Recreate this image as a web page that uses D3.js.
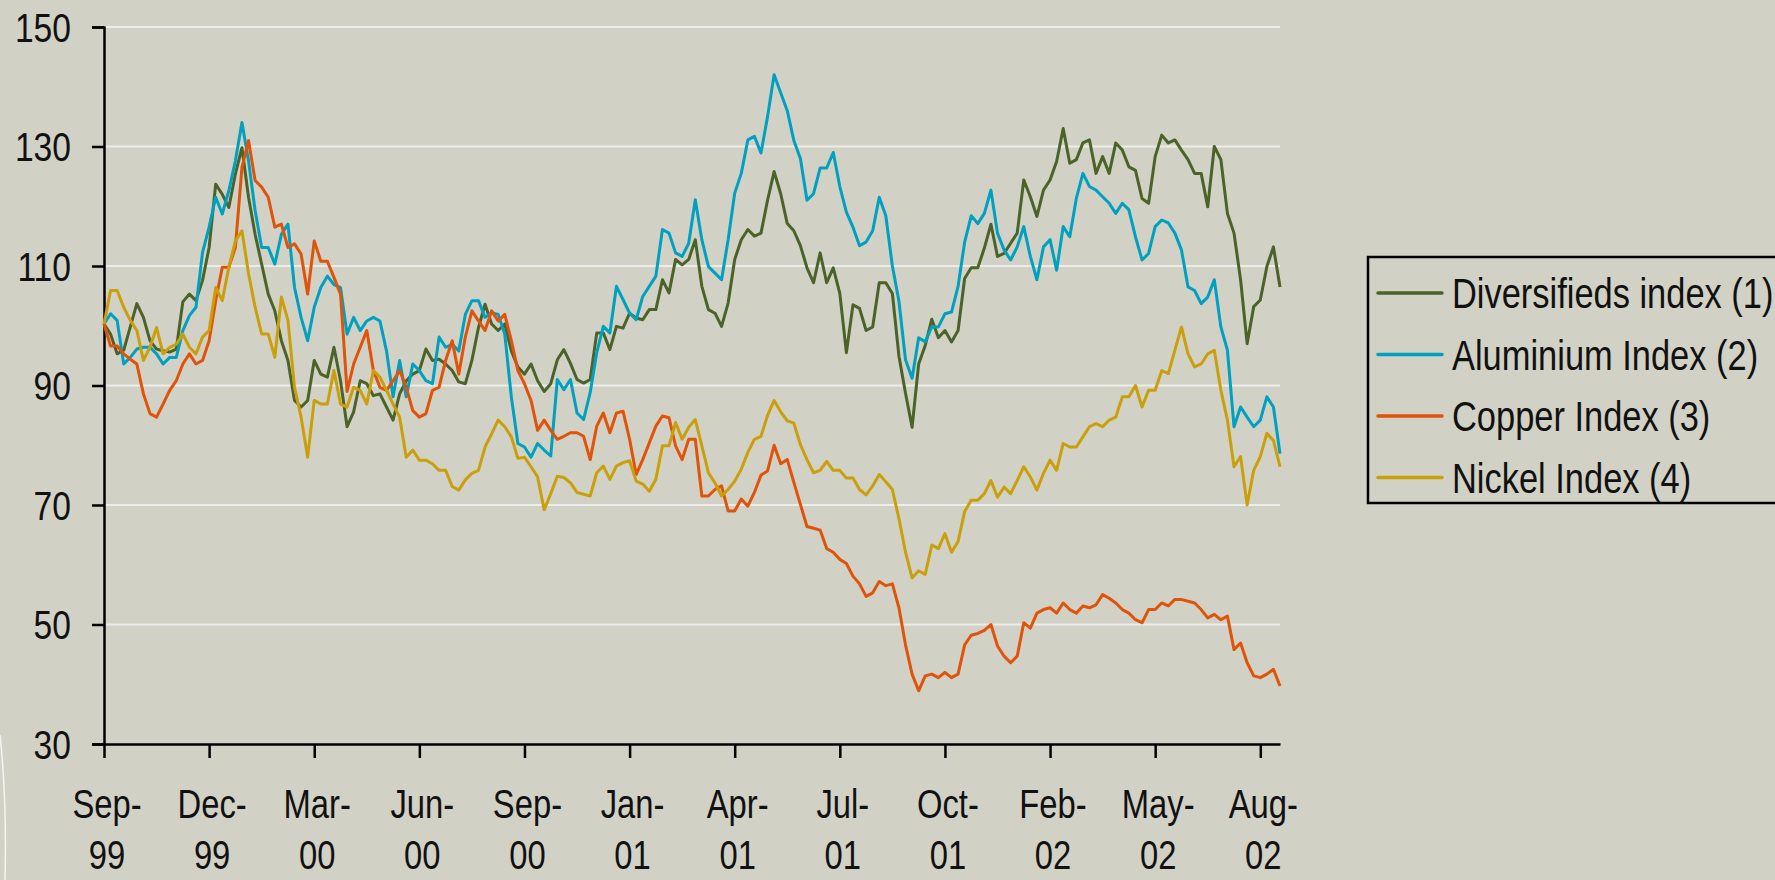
<!DOCTYPE html>
<html>
<head>
<meta charset="utf-8">
<script src="https://cdn.jsdelivr.net/npm/d3@7"></script>
<style>
  html, body { margin: 0; padding: 0; background: #d2d1c5; }
  svg { display: block; }
  text { font-family: "Liberation Sans", Arial, sans-serif; fill: #111; }
</style>
</head>
<body>
<svg></svg>
<script>
// Data =======================================================================

// tick labels, one every 16 points along the category axis
const tickLabels = [
  ["Sep-", "99"], ["Dec-", "99"], ["Mar-", "00"], ["Jun-", "00"],
  ["Sep-", "00"], ["Jan-", "01"], ["Apr-", "01"], ["Jul-", "01"],
  ["Oct-", "01"], ["Feb-", "02"], ["May-", "02"], ["Aug-", "02"]
];
const pointsPerTick = 16;

const yTicks = [30, 50, 70, 90, 110, 130, 150];

const seriesNames = [
  "Diversifieds index (1)",
  "Aluminium Index (2)",
  "Copper Index (3)",
  "Nickel Index (4)"
];

const diversified = [
  100.3, 98.6, 95.3, 95.9, 99.8, 103.7, 101.4, 97.5, 96.1, 95.8,
  95.6, 96.1, 104, 105.3, 104.2, 107.6, 113.1, 123.7, 122, 119.8,
  125.4, 129.8, 121.5, 115.3, 110.3, 105.3, 102.5, 97.5, 94.2, 87.5,
  86.4, 87.5, 94.2, 91.9, 91.4, 96.4, 90.8, 83.1, 85.6, 90.8,
  90.3, 88.3, 88.6, 86.4, 84.2, 88.6, 90.8, 91.9, 92.5, 96.1,
  94.2, 94.4, 93.6, 92.5, 90.6, 90.3, 94.2, 99.7, 103.6, 100.3,
  99.2, 100.3, 95.8, 93.1, 91.9, 93.6, 90.8, 89, 90.3, 94.3,
  96, 93.7, 91, 90.4, 91, 98.8, 98.8, 96, 99.9, 99.6,
  102.1, 101.3, 101, 102.7, 102.7, 107.7, 105.5, 111.1, 110.2, 111.1,
  114.4, 106.6, 102.7, 102.1, 99.9, 103.8, 111.1, 114.4, 116.1, 115,
  115.5, 121, 125.8, 122.1, 117.1, 115.9, 113.4, 109.7, 107.2, 112.2,
  107.2, 109.7, 105.4, 95.5, 103.5, 102.9, 99.2, 99.8, 107.2, 107.2,
  105.4, 94.9, 88.7, 83, 93.6, 96.7, 101.1, 98, 99.2, 97.3,
  99.2, 107.9, 109.7, 109.7, 113, 117, 111.6, 112.1, 113.8, 115.5,
  124.4, 121.6, 118.3, 122.7, 124.4, 127.5, 133, 127.2, 127.8, 130.6,
  131.1, 125.5, 128.3, 125.5, 130.6, 129.4, 126.6, 126, 121.3, 120.5,
  128.3, 131.9, 130.6, 131.1, 129.4, 127.8, 125.5, 125.5, 119.9, 130,
  127.8, 118.8, 115.5, 107.7, 97, 103.2, 104.3, 109.9, 113.2, 106.5
];

const aluminium = [
  100.3, 102, 100.9, 93.6, 94.7, 96.1, 96.4, 96.4, 95.3, 93.6,
  94.7, 94.7, 99.2, 101.7, 103.1, 112.3, 116.5, 121.5, 118.7, 122.6,
  127.6, 134, 127.6, 119.3, 113.1, 113.1, 110.3, 115.3, 117, 106.4,
  101.4, 97.5, 103.1, 106.4, 108.3, 106.9, 106.4, 98.6, 101.4, 99.2,
  100.8, 101.4, 100.8, 95.8, 88.1, 94.2, 88.1, 93.6, 92.5, 90.8,
  90.3, 98.1, 96.4, 96.9, 95.8, 101.9, 104.2, 104.2, 101.4, 102.2,
  101.9, 98.6, 88.1, 80.3, 79.7, 78, 80.3, 79.2, 78.2, 91,
  89.3, 91, 85.4, 84.3, 88.8, 95.5, 99.9, 98.8, 106.6, 104.4,
  102.1, 101, 104.9, 106.6, 108.3, 116.1, 115.5, 112.2, 111.6, 113.8,
  121.1, 114.4, 109.9, 108.8, 107.7, 114.4, 122.2, 125.5, 131.1, 131.7,
  128.9, 135, 142, 139, 136, 131, 128, 121, 122.1, 126.4,
  126.4, 129, 123.3, 119, 116.5, 113.4, 114, 115.9, 121.5, 118.4,
  110, 104.1, 94.3, 91.2, 98, 97.3, 99.8, 99.8, 102, 102.3,
  106.6, 114, 118.4, 117.1, 118.8, 122.7, 115.5, 112.7, 111, 113.2,
  116.6, 111.6, 107.7, 113.2, 114.4, 109.3, 116.6, 114.9, 121.3, 125.5,
  123.3, 122.7, 121.6, 120.5, 118.8, 120.5, 119.4, 114.9, 111, 112.1,
  116.6, 117.7, 117.2, 115.5, 112.7, 106.5, 105.9, 103.7, 104.8, 107.7,
  99.8, 95.9, 83.1, 86.4, 84.7, 83.1, 84.2, 88.1, 86.4, 78.6
];

const copper = [
  100.3, 96.6, 96.6, 95.3, 94.4, 93.6, 88.6, 85.3, 84.7, 86.9,
  89.2, 90.8, 93.6, 95.3, 93.6, 94.2, 97.5, 104.2, 109.8, 109.8,
  113.1, 126.5, 131, 124.3, 123.2, 121.5, 116.5, 117, 113.1, 113.7,
  112, 105.3, 114.2, 110.8, 110.8, 108.1, 105.3, 89, 93.6, 96.4,
  99.2, 92.5, 89.7, 89.2, 90.8, 92.5, 89.7, 85.8, 84.7, 85.3,
  89.2, 89.7, 94.2, 97.5, 91.9, 98.1, 102.5, 100.8, 99.2, 102.5,
  100.8, 101.9, 97.5, 92.5, 90.3, 87.5, 82.5, 84.2, 82.5, 81,
  81.5, 82.1, 82.1, 81.5, 77.6, 83.2, 85.4, 82.1, 85.4, 85.7,
  81, 75.1, 77.6, 80.4, 83.2, 84.9, 84.6, 79.9, 77.6, 81,
  81, 71.5, 71.5, 72.6, 73.2, 69, 69, 71, 69.8, 72.1,
  75, 75.7, 80, 76.9, 77.6, 73.8, 70.1, 66.4, 66.1, 65.8,
  62.7, 62.1, 60.9, 60.2, 58.1, 56.8, 54.7, 55.3, 57.2, 56.5,
  56.8, 52.8, 46.6, 41.7, 38.9, 41.4, 41.7, 41.1, 42, 41.1,
  41.7, 46.6, 48.2, 48.5, 49, 50, 46.4, 44.7, 43.6, 44.7,
  50.3, 49.4, 51.9, 52.5, 52.8, 51.9, 53.6, 52.5, 51.9, 53.1,
  52.8, 53.3, 55, 54.4, 53.6, 52.5, 51.9, 50.8, 50.3, 52.5,
  52.5, 53.6, 53.1, 54.2, 54.2, 53.9, 53.6, 52.5, 51.1, 51.7,
  50.8, 51.4, 45.8, 46.9, 43.6, 41.4, 41.1, 41.7, 42.5, 39.7
];

const nickel = [
  100.3, 105.9, 105.9, 103.1, 100.9, 99.2, 94.2, 96.4, 99.7, 95.3,
  96.4, 96.9, 98.6, 96.4, 95.3, 98.1, 99.2, 106.4, 104.2, 109.8,
  114.2, 115.9, 108.7, 103.1, 98.6, 98.6, 94.7, 104.8, 100.9, 89.7,
  84.7, 78, 87.5, 86.9, 86.9, 92.5, 86.9, 86.4, 89.7, 89.2,
  86.9, 92.5, 91.4, 89.2, 86.9, 84.7, 78, 79.2, 77.5, 77.5,
  76.9, 75.8, 75.8, 73.1, 72.5, 74.2, 75.3, 75.8, 79.7, 81.9,
  84.2, 83.1, 81.4, 77.8, 78, 76.4, 74.7, 69.2, 71.9, 74.8,
  74.6, 73.7, 72.1, 71.8, 71.5, 75.4, 76.5, 74.3, 76.5, 77.1,
  77.4, 74, 73.5, 72.3, 74.3, 79.9, 79.9, 83.8, 81, 83,
  84.3, 79.9, 75.4, 73.7, 71.5, 72.6, 74, 76, 78.8, 81,
  81.5, 85, 87.5, 85.6, 84.1, 83.7, 80.1, 77.6, 75.4, 75.8,
  77.3, 75.8, 75.8, 74.5, 74.5, 72.6, 71.7, 73.2, 75.1, 73.9,
  72.6, 67.7, 62.1, 57.8, 59, 58.4, 63.3, 62.7, 65.2, 62.1,
  63.9, 68.9, 70.8, 70.8, 71.9, 74.1, 71.3, 73, 71.9, 74.1,
  76.4, 74.7, 72.5, 75.3, 77.5, 75.8, 80.3, 79.7, 79.7, 81.4,
  83.1, 83.6, 83.1, 84.2, 84.7, 88.1, 88.1, 90, 86.4, 89.2,
  89.2, 92.5, 92, 95.9, 99.8, 95.3, 93.1, 93.6, 95.3, 95.9,
  89.2, 84.2, 76.4, 78.1, 70, 75.8, 78.1, 82, 80.8, 76.4
];

const allSeries = [diversified, aluminium, copper, nickel];
const colors = ["#4b6329", "#00a0c0", "#e0530a", "#c9a00c"];

// Canvas =====================================================================

const svgWidth = 1775,
  svgHeight = 880;

const plot = { left: 104, right: 1280, top: 27, bottom: 744 };

// the chart font is a condensed face, so squeeze a regular one
const squeeze = 0.82;

const svg = d3.select("svg")
  .attr("width", svgWidth)
  .attr("height", svgHeight);

svg.append("rect")
  .attr("width", svgWidth)
  .attr("height", svgHeight)
  .attr("fill", "#d2d1c5");

// page edge curl, bottom left
svg.append("path")
  .attr("d", "M0,735 Q7,800 5,880")
  .attr("fill", "none")
  .attr("stroke", "#f4f4f0")
  .attr("stroke-width", 1.5);

// Scales =====================================================================

const xScale = d3.scaleLinear()
  .domain([0, diversified.length - 1])
  .range([plot.left, plot.right]);

const yScale = d3.scaleLinear()
  .domain([30, 150])
  .range([plot.bottom, plot.top]);

const tickIndex = tickLabels.map((d, i) => i * pointsPerTick);

// Gridlines ==================================================================

svg.append("g")
  .selectAll("line")
  .data(yTicks.filter(d => d > 30))
  .enter()
  .append("line")
  .attr("x1", plot.left)
  .attr("x2", plot.right)
  .attr("y1", d => yScale(d))
  .attr("y2", d => yScale(d))
  .attr("stroke", "#ececea")
  .attr("stroke-width", 2);

// Axes =======================================================================

const yAxis = d3.axisLeft(yScale)
  .tickValues(yTicks)
  .tickSize(12)
  .tickPadding(21);

svg.append("g")
  .attr("transform", `translate(${plot.left},0)`)
  .call(yAxis)
  .call(g => g.select(".domain").attr("stroke", "#000").attr("stroke-width", 2.5))
  .call(g => g.selectAll(".tick line").attr("stroke", "#000").attr("stroke-width", 2.5))
  .call(g => g.selectAll(".tick text")
    .attr("x", null)
    .attr("transform", `translate(-33,0) scale(${squeeze},1)`)
    .attr("font-size", 41)
    .attr("font-family", null)
    .attr("fill", "#111")
    .attr("dy", "0.35em"));

const xAxis = d3.axisBottom(xScale)
  .tickValues(tickIndex)
  .tickSize(14)
  .tickSizeOuter(0)
  .tickFormat("");

svg.append("g")
  .attr("transform", `translate(0,${plot.bottom})`)
  .call(xAxis)
  .call(g => g.select(".domain").attr("stroke", "#000").attr("stroke-width", 2.5))
  .call(g => g.selectAll(".tick line").attr("stroke", "#000").attr("stroke-width", 2.5));

// two-line month labels
const xLabels = svg.append("g")
  .selectAll("text")
  .data(tickLabels)
  .enter()
  .append("text")
  .attr("text-anchor", "middle")
  .attr("font-size", 40)
  .attr("transform", (d, i) => `translate(${xScale(tickIndex[i]) + 3},0) scale(${squeeze},1)`);

xLabels.append("tspan").attr("x", 0).attr("y", 818).text(d => d[0]);
xLabels.append("tspan").attr("x", 0).attr("y", 869).text(d => d[1]);

// Lines ======================================================================

const line = d3.line()
  .x((d, i) => xScale(i))
  .y(d => yScale(d));

svg.append("g")
  .selectAll("path")
  .data(allSeries)
  .enter()
  .append("path")
  .attr("d", line)
  .attr("fill", "none")
  .attr("stroke", (d, i) => colors[i])
  .attr("stroke-width", 3)
  .attr("stroke-linejoin", "round");

// Legend =====================================================================

const legend = svg.append("g").attr("transform", "translate(1368,257)");

legend.append("rect")
  .attr("width", 460)
  .attr("height", 246)
  .attr("fill", "none")
  .attr("stroke", "#000")
  .attr("stroke-width", 2.5);

const rows = legend.selectAll("g.row")
  .data(seriesNames)
  .enter()
  .append("g")
  .attr("class", "row")
  .attr("transform", (d, i) => `translate(0,${36 + i * 61.5})`);

rows.append("line")
  .attr("x1", 10)
  .attr("x2", 74)
  .attr("stroke", (d, i) => colors[i])
  .attr("stroke-width", 3.5)
  .attr("stroke-linecap", "round");

rows.append("text")
  .attr("transform", `translate(84,0) scale(${squeeze},1)`)
  .attr("dy", "0.36em")
  .attr("font-size", 42)
  .text(d => d);
</script>
</body>
</html>
